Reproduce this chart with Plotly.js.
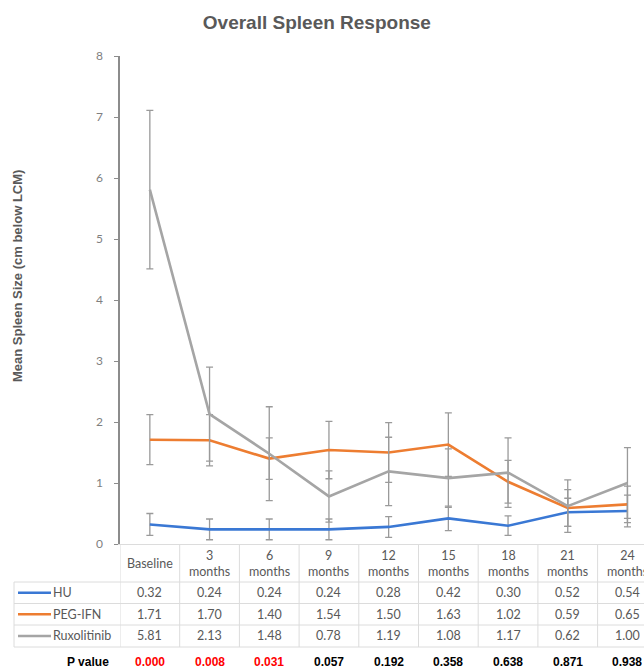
<!DOCTYPE html>
<html>
<head>
<meta charset="utf-8">
<script src="https://cdn.plot.ly/plotly-3.0.1.min.js"></script>
<style>
  html, body { margin: 0; padding: 0; background: #fff; overflow: hidden; }
  #chart { width: 644px; height: 670px; }
</style>
</head>
<body>
<div id="chart"></div>
<script>
// ---- data ----
const categories = ["Baseline", "3 months", "6 months", "9 months", "12 months", "15 months", "18 months", "21 months", "24 months"];
const headerLabels = ["Baseline", "3<br>months", "6<br>months", "9<br>months", "12<br>months", "15<br>months", "18<br>months", "21<br>months", "24<br>months"];
const seriesNames = ["HU", "PEG-IFN", "Ruxolitinib"];
const huValues = [0.32, 0.24, 0.24, 0.24, 0.28, 0.42, 0.30, 0.52, 0.54];
const pegValues = [1.71, 1.70, 1.40, 1.54, 1.50, 1.63, 1.02, 0.59, 0.65];
const ruxValues = [5.81, 2.13, 1.48, 0.78, 1.19, 1.08, 1.17, 0.62, 1.00];
const huErrors = [0.18, 0.17, 0.17, 0.17, 0.17, 0.20, 0.16, 0.23, 0.26];
const pegErrors = [0.41, 0.42, 0.34, 0.47, 0.49, 0.52, 0.35, 0.30, 0.30];
const ruxErrors = [1.30, 0.77, 0.77, 0.42, 0.56, 0.48, 0.57, 0.43, 0.58];
const pValues = ["0.000", "0.008", "0.031", "0.057", "0.192", "0.358", "0.638", "0.871", "0.938"];
const yTicks = [0, 1, 2, 3, 4, 5, 6, 7, 8];

// ---- styling ----
const colors = ["#3a78d4", "#ed7d31", "#a5a5a5"];
const errColor = "#9a9a9a";
const tableColor = "#dcdcdc";
const textGray = "#595959";
const tableFont = "Lato, 'Open Sans', sans-serif";
const arialFont = "'Liberation Sans', Arial, sans-serif";

// pixel helpers for layout (plot area: x 120..644, y 56..544)
const PL = 120, PR = 644, PT = 56, PB = 544;
const xp = px => (px - PL) / (PR - PL);
const yp = py => (PB - py) / (PB - PT);

const values = [huValues, pegValues, ruxValues];
const errors = [huErrors, pegErrors, ruxErrors];

const traces = values.map((v, i) => ({
  type: "scatter",
  mode: "lines",
  name: seriesNames[i],
  x: categories,
  y: v,
  line: { color: colors[i], width: 2.6 },
  error_y: { type: "data", array: errors[i], visible: true, color: errColor, thickness: 1.3, width: 3.5 },
  hoverinfo: "x+y+name"
}));

const annotations = [];
const shapes = [];

// y-axis title
annotations.push({
  xref: "paper", yref: "paper", x: xp(17), y: yp(276),
  text: "<b>Mean Spleen Size (cm below LCM)</b>", textangle: -90,
  showarrow: false, xanchor: "center", yanchor: "middle",
  font: { family: arialFont, size: 13, color: textGray }
});

// table rows geometry
const headerCenter = 563;
const rowLines = [582, 603.5, 625, 647];
const rowCenters = [592.8, 614.3, 636];
const pRowCenter = 661.5;
const cellSize = 12.5;

// header labels
categories.forEach((c, i) => {
  annotations.push({
    xref: "x", yref: "paper", x: i, y: yp(headerCenter),
    text: headerLabels[i], showarrow: false, xanchor: "center", yanchor: "middle",
    font: { family: tableFont, size: cellSize, color: textGray }
  });
});

// values rows
values.forEach((v, r) => {
  v.forEach((val, i) => {
    annotations.push({
      xref: "x", yref: "paper", x: i, y: yp(rowCenters[r]),
      text: val.toFixed(2), showarrow: false, xanchor: "center", yanchor: "middle",
      font: { family: tableFont, size: cellSize, color: textGray }
    });
  });
  // legend label
  annotations.push({
    xref: "paper", yref: "paper", x: xp(51), y: yp(rowCenters[r]),
    text: seriesNames[r], showarrow: false, xanchor: "left", yanchor: "middle",
    font: { family: tableFont, size: cellSize, color: textGray }
  });
  // legend key line
  shapes.push({
    type: "line", xref: "paper", yref: "paper",
    x0: xp(18), x1: xp(51), y0: yp(rowCenters[r]), y1: yp(rowCenters[r]),
    line: { color: colors[r], width: 2.6 }
  });
});

// p value row
annotations.push({
  xref: "paper", yref: "paper", x: xp(110), y: yp(pRowCenter),
  text: "<b>P value</b>", showarrow: false, xanchor: "right", yanchor: "middle",
  borderpad: 0,
  font: { family: arialFont, size: 12, color: "#000" }
});
pValues.forEach((p, i) => {
  annotations.push({
    xref: "x", yref: "paper", x: i, y: yp(pRowCenter),
    text: "<b>" + p + "</b>", showarrow: false, xanchor: "center", yanchor: "middle",
    borderpad: 0,
    font: { family: arialFont, size: 12, color: parseFloat(p) < 0.05 ? "#ff0000" : "#000" }
  });
});

// table grid: vertical lines between categories
for (let k = 0; k <= categories.length; k++) {
  shapes.push({
    type: "line", xref: "x", yref: "paper",
    x0: k - 0.5, x1: k - 0.5, y0: yp(PB), y1: yp(rowLines[3]),
    line: { color: tableColor, width: 1 }
  });
}
// horizontal lines
rowLines.forEach(ly => {
  shapes.push({
    type: "line", xref: "paper", yref: "paper",
    x0: xp(14), x1: 1.05, y0: yp(ly), y1: yp(ly),
    line: { color: tableColor, width: 1 }
  });
});
// left border of label column
shapes.push({
  type: "line", xref: "paper", yref: "paper",
  x0: xp(14), x1: xp(14), y0: yp(rowLines[0]), y1: yp(rowLines[3]),
  line: { color: tableColor, width: 1 }
});

const layout = {
  width: 644, height: 670,
  margin: { l: PL, r: 644 - PR, t: PT, b: 670 - PB, pad: 0 },
  paper_bgcolor: "#fff", plot_bgcolor: "#fff",
  showlegend: false,
  title: {
    text: "<b>Overall Spleen Response</b>",
    font: { family: arialFont, size: 19, color: textGray },
    x: 0.492, xref: "container", xanchor: "center",
    y: 1 - 22 / 670, yref: "container", yanchor: "middle"
  },
  xaxis: {
    type: "category",
    categoryorder: "array", categoryarray: categories,
    range: [-0.5, -0.5 + (PR - PL) / 59.7],
    showticklabels: false, ticks: "",
    showgrid: false, zeroline: false,
    showline: true, linecolor: tableColor, linewidth: 1,
    fixedrange: true
  },
  yaxis: {
    range: [0, 8],
    tickvals: yTicks,
    ticktext: yTicks.map(String),
    ticks: "outside", ticklen: 4, tickcolor: "#8c8c8c", tickwidth: 1,
    ticklabelstandoff: 9,
    tickfont: { family: tableFont, size: 12, color: "#7f7f7f" },
    showline: true, linecolor: "#8c8c8c", linewidth: 1.6,
    showgrid: false, zeroline: false,
    fixedrange: true
  },
  annotations: annotations,
  shapes: shapes
};

Plotly.newPlot("chart", traces, layout, { displayModeBar: false, responsive: false, staticPlot: true });
</script>
</body>
</html>
